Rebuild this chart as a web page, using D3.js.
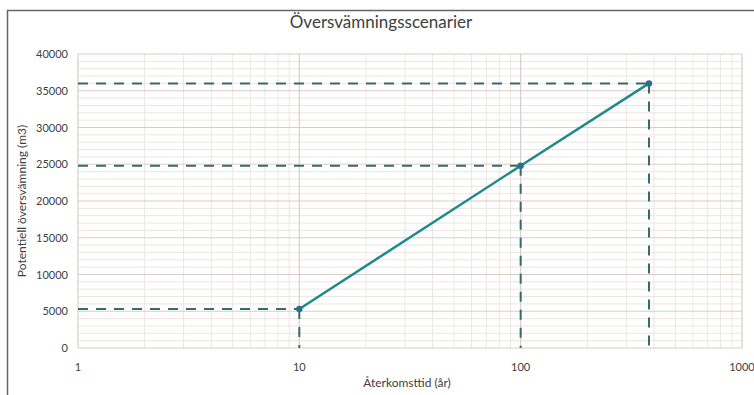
<!DOCTYPE html>
<html>
<head>
<meta charset="utf-8">
<script src="https://cdn.jsdelivr.net/npm/d3@7"></script>
<style>
  body { margin: 0; background: #fff; }
  svg { display: block; font-family: Lato, "Open Sans", sans-serif; }
</style>
</head>
<body>
<script>
// data
var returnPeriods = [10, 100, 380];
var volumes = [5300, 24800, 36000];
var xTicks = [1, 10, 100, 1000];
var yTicks = [0, 5000, 10000, 15000, 20000, 25000, 30000, 35000, 40000];

var W = 754, H = 395;
var m = { left: 78, right: 12, top: 54, bottom: 47 };

var svg = d3.select("body").append("svg")
  .attr("width", W).attr("height", H);

// outer frame (only top and left visible)
svg.append("path")
  .attr("d", "M7.5," + H + "V10.5H" + W)
  .attr("fill", "none").attr("stroke", "#666").attr("stroke-width", 1.5);

var x = d3.scaleLog().domain([1, 1000]).range([m.left, W - m.right]);
var y = d3.scaleLinear().domain([0, 40000]).range([H - m.bottom, m.top]);

var g = svg.append("g");

// minor grid
var minorX = [];
[1, 10, 100].forEach(function (d) {
  for (var k = 2; k <= 9; k++) { minorX.push(d * k); }
});
var minorY = d3.range(1000, 40000, 1000).filter(function (v) { return v % 5000 !== 0; });

g.selectAll(".mx").data(minorX).enter().append("line")
  .attr("x1", function (d) { return x(d); }).attr("x2", function (d) { return x(d); })
  .attr("y1", y(0)).attr("y2", y(40000))
  .attr("stroke", "#ece6e2").attr("stroke-width", 1);
g.selectAll(".my").data(minorY).enter().append("line")
  .attr("y1", function (d) { return y(d); }).attr("y2", function (d) { return y(d); })
  .attr("x1", x(1)).attr("x2", x(1000))
  .attr("stroke", "#ece6e2").attr("stroke-width", 1);

// major grid
g.selectAll(".Mx").data(xTicks).enter().append("line")
  .attr("x1", function (d) { return x(d); }).attr("x2", function (d) { return x(d); })
  .attr("y1", y(0)).attr("y2", y(40000))
  .attr("stroke", "#d8cec8").attr("stroke-width", 1.2);
g.selectAll(".My").data(yTicks).enter().append("line")
  .attr("y1", function (d) { return y(d); }).attr("y2", function (d) { return y(d); })
  .attr("x1", x(1)).attr("x2", x(1000))
  .attr("stroke", "#d8cec8").attr("stroke-width", 1.2);

// axes labels
svg.selectAll(".yt").data(yTicks).enter().append("text")
  .attr("x", 68).attr("y", function (d) { return y(d) + 4; })
  .attr("text-anchor", "end").attr("font-size", 11).attr("fill", "#404040")
  .text(function (d) { return d; });
svg.selectAll(".xt").data(xTicks).enter().append("text")
  .attr("x", function (d) { return x(d); }).attr("y", 371)
  .attr("text-anchor", "middle").attr("font-size", 11).attr("fill", "#404040")
  .text(function (d) { return d; });

// dashed guide lines
var pts = returnPeriods.map(function (d, i) { return [d, volumes[i]]; });
var dash = svg.append("g").attr("stroke", "#386b63").attr("stroke-width", 2)
  .attr("stroke-dasharray", "10,8").attr("fill", "none");
dash.selectAll(".h").data(pts).enter().append("line")
  .attr("x1", x(1)).attr("x2", function (d) { return x(d[0]); })
  .attr("y1", function (d) { return y(d[1]); }).attr("y2", function (d) { return y(d[1]); });
dash.selectAll(".v").data(pts).enter().append("line")
  .attr("x1", function (d) { return x(d[0]); }).attr("x2", function (d) { return x(d[0]); })
  .attr("y1", function (d) { return y(d[1]); }).attr("y2", y(0));

// series line
svg.append("path").datum(pts)
  .attr("d", d3.line().x(function (d) { return x(d[0]); }).y(function (d) { return y(d[1]); }))
  .attr("fill", "none").attr("stroke", "#1f8a8a").attr("stroke-width", 2.5);
svg.selectAll(".pt").data(pts).enter().append("circle")
  .attr("cx", function (d) { return x(d[0]); }).attr("cy", function (d) { return y(d[1]); })
  .attr("r", 3.2).attr("fill", "#2a6f8c");

// titles
svg.append("text").attr("x", 381).attr("y", 28).attr("text-anchor", "middle")
  .attr("font-size", 17).attr("fill", "#404040").text("Översvämningsscenarier");
svg.append("text").attr("x", 407).attr("y", 387).attr("text-anchor", "middle")
  .attr("font-size", 12).attr("fill", "#404040").text("Återkomsttid (år)");
svg.append("text").attr("transform", "translate(26,201) rotate(-90)")
  .attr("text-anchor", "middle").attr("font-size", 12).attr("fill", "#404040")
  .text("Potentiell översvämning (m3)");
</script>
</body>
</html>
